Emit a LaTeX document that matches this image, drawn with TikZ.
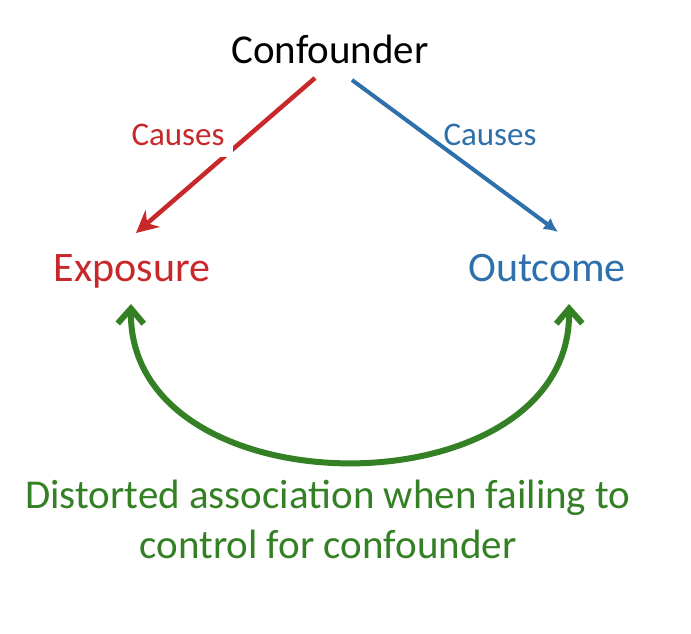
\documentclass[tikz,border=0pt]{standalone}
\usepackage{fontspec}
\setmainfont{Carlito}
\usetikzlibrary{arrows.meta}
\definecolor{cred}{RGB}{200,40,42}
\definecolor{cblue}{RGB}{46,112,172}
\definecolor{cgreen}{RGB}{52,128,36}
\begin{document}
\begin{tikzpicture}[x=1pt,y=-1pt,
  every node/.style={inner sep=0pt,outer sep=0pt},
  big/.style={font=\fontsize{41}{49}\selectfont, anchor=base},
  lbl/.style={font=\fontsize{33}{40}\selectfont, anchor=base},
  redarrow/.style={draw=cred, line width=4.5pt, -{Stealth[length=22pt,width=22pt]}},
  bluearrow/.style={draw=cblue, line width=4pt, -{Latex[length=14pt,width=14pt]}},
  greenarc/.style={draw=cgreen, line width=6pt, line cap=round, {Straight Barb[length=15pt,width=26pt,line width=6pt]}-{Straight Barb[length=15pt,width=26pt,line width=6pt]}}
]
\useasboundingbox (0,0) rectangle (691,634);
\fill[white] (0,0) rectangle (691,634);

\node[big] (conf) at (330,64) {Confounder};
\node[big, text=cred, font=\fontsize{42}{50}\selectfont] (expo) at (132,281) {Exposure};
\node[big, text=cblue, font=\fontsize{42}{50}\selectfont] (outc) at (547,281) {Outcome};

\coordinate (rs) at (315,78);
\coordinate (re) at (136,233);
\coordinate (bs) at (352,80);
\coordinate (be) at (558,232);
\coordinate (gl) at (131,304);
\coordinate (gr) at (569,304);

\draw[redarrow] (rs) -- (re);
\draw[bluearrow] (bs) -- (be);
\draw[greenarc] (gl) .. controls (128,514) and (572,514) .. (gr);

\node[lbl, text=cred, fill=white, inner xsep=9pt, text height=36pt, text depth=12pt] (c1) at (178,145) {Causes};
\node[lbl, text=cblue] (c2) at (490,145) {Causes};

\node[big, text=cgreen, align=center, font=\fontsize{41}{50}\selectfont] (note) at (328,558) {Distorted association when failing to\\control for confounder};
\end{tikzpicture}
\end{document}
